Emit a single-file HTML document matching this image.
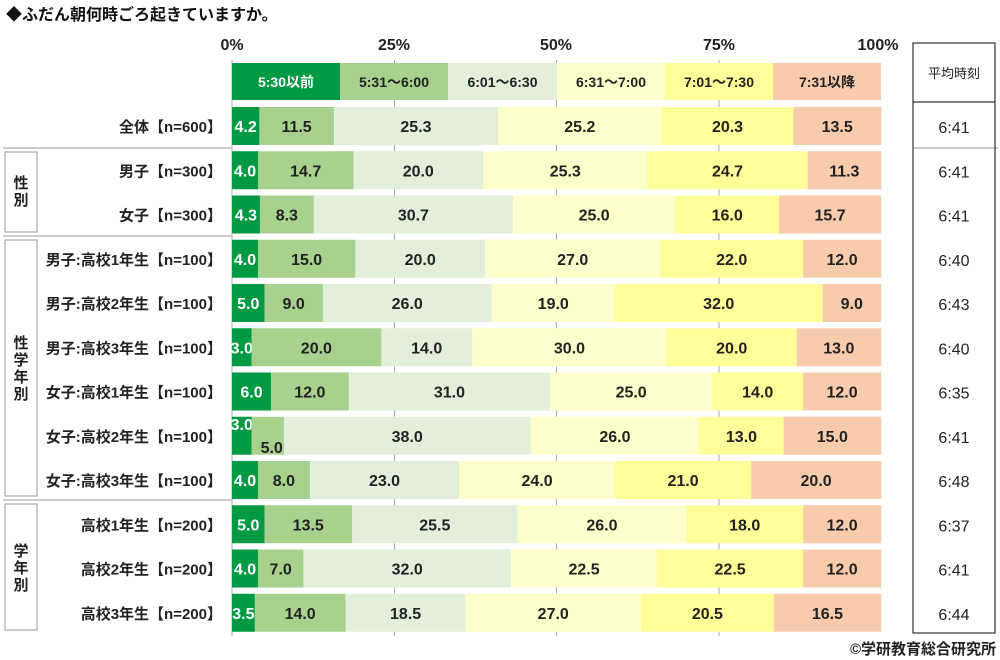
<!DOCTYPE html>
<html><head><meta charset="utf-8"><style>
body{margin:0;background:#fff;}
svg{display:block;font-family:"Liberation Sans","Noto Sans CJK JP",sans-serif;}
</style></head><body>
<svg id="s" width="1000" height="660" xmlns="http://www.w3.org/2000/svg">
<text x="6" y="20" font-size="16" font-weight="bold" fill="#111">◆ふだん朝何時ごろ起きていますか。</text>
<g font-size="16" font-weight="bold" fill="#222" text-anchor="middle">
<text x="232" y="50">0%</text><text x="394" y="50">25%</text><text x="556" y="50">50%</text><text x="719" y="50">75%</text><text x="878" y="50">100%</text>
</g>
<g stroke="#aaa" stroke-width="1">
<line x1="232" y1="60" x2="232" y2="636"/>
<line x1="394.5" y1="60" x2="394.5" y2="636"/>
<line x1="556.5" y1="60" x2="556.5" y2="636"/>
<line x1="719" y1="60" x2="719" y2="636"/>
</g>
<g stroke="#bbb" stroke-width="1.5">
<line x1="3" y1="148" x2="232" y2="148"/><line x1="3" y1="236" x2="232" y2="236"/><line x1="3" y1="500" x2="232" y2="500"/>
<line x1="913" y1="148" x2="998" y2="148"/>
</g>
<g fill="#fff" stroke="#999" stroke-width="1">
<rect x="5" y="152" width="32" height="80"/>
<rect x="5" y="240" width="32" height="256"/>
<rect x="5" y="504" width="32" height="126"/>
</g>
<g font-size="15" font-weight="bold" fill="#222" text-anchor="middle">
<text x="21" y="188">性</text><text x="21" y="205">別</text>
<text x="21" y="348">性</text><text x="21" y="365">学</text><text x="21" y="382">年</text><text x="21" y="399">別</text>
<text x="21" y="556">学</text><text x="21" y="573">年</text><text x="21" y="590">別</text>
</g>
<rect x="913" y="43" width="82" height="590" fill="none" stroke="#333" stroke-width="1.2"/>
<line x1="913" y1="102" x2="995" y2="102" stroke="#333" stroke-width="1.2"/>
<text x="954" y="78" font-size="13" text-anchor="middle" fill="#222">平均時刻</text>
<g id="bars"></g>
<text x="996" y="654" font-size="15" font-weight="bold" text-anchor="end" fill="#222">©学研教育総合研究所</text>
</svg>
<script>
var cols=["#009a44","#a9d18e","#e2efda","#ffffcc","#ffff99","#f8cbad"];
var tcol=["#fff","#222","#222","#222","#222","#222"];
var heads=["5:30以前","5:31～6:00","6:01～6:30","6:31～7:00","7:01～7:30","7:31以降"];
var rows=[
["全体【n=600】",[4.2,11.5,25.3,25.2,20.3,13.5],"6:41"],
["男子【n=300】",[4.0,14.7,20.0,25.3,24.7,11.3],"6:41"],
["女子【n=300】",[4.3,8.3,30.7,25.0,16.0,15.7],"6:41"],
["男子:高校1年生【n=100】",[4.0,15.0,20.0,27.0,22.0,12.0],"6:40"],
["男子:高校2年生【n=100】",[5.0,9.0,26.0,19.0,32.0,9.0],"6:43"],
["男子:高校3年生【n=100】",[3.0,20.0,14.0,30.0,20.0,13.0],"6:40"],
["女子:高校1年生【n=100】",[6.0,12.0,31.0,25.0,14.0,12.0],"6:35"],
["女子:高校2年生【n=100】",[3.0,5.0,38.0,26.0,13.0,15.0],"6:41"],
["女子:高校3年生【n=100】",[4.0,8.0,23.0,24.0,21.0,20.0],"6:48"],
["高校1年生【n=200】",[5.0,13.5,25.5,26.0,18.0,12.0],"6:37"],
["高校2年生【n=200】",[4.0,7.0,32.0,22.5,22.5,12.0],"6:41"],
["高校3年生【n=200】",[3.5,14.0,18.5,27.0,20.5,16.5],"6:44"]];
var g=document.getElementById("bars"),NS="http://www.w3.org/2000/svg";
function el(t,a,txt){var e=document.createElementNS(NS,t);for(var k in a)e.setAttribute(k,a[k]);if(txt!=null)e.textContent=txt;g.appendChild(e);return e;}
var X0=232,W=649,x;
var hx=[232,340,448,557,665,773,881];
for(var i=0;i<6;i++){el("rect",{x:hx[i],y:63,width:hx[i+1]-hx[i],height:37,fill:cols[i]});
el("text",{x:(hx[i]+hx[i+1])/2,y:87,"font-size":14,"font-weight":"bold","text-anchor":"middle",fill:tcol[i]},heads[i]);}
for(var r=0;r<rows.length;r++){
 var y=107+r*44.25, v=rows[r][1], s=v.reduce(function(a,b){return a+b;},0); x=X0;
 el("text",{x:222,y:y+25,"font-size":15,"font-weight":"bold","text-anchor":"end",fill:"#222"},rows[r][0]);
 for(var i=0;i<6;i++){var w=v[i]/s*W;
  el("rect",{x:x,y:y,width:w+0.3,height:38,fill:cols[i]});
  var tx=x+w/2, ty=y+25, lab=v[i].toFixed(1);
  if(r==7&&i==0){ty=y+13;}
  if(r==7&&i==1){tx=x+w/2+4;ty=y+36;}
  el("text",{x:tx,y:ty,"font-size":16,"font-weight":"bold","text-anchor":"middle",fill:tcol[i]},lab);
  x+=w;}
 el("text",{x:954,y:y+26,"font-size":16,"text-anchor":"middle",fill:"#222"},rows[r][2]);
}
</script>
</body></html>
